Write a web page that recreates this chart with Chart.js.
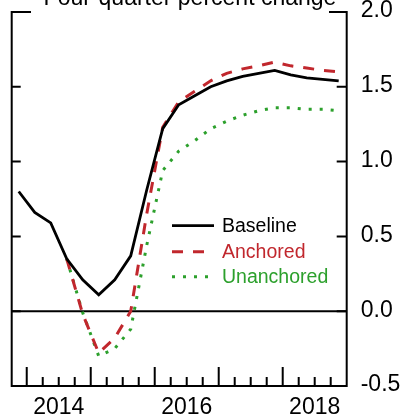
<!DOCTYPE html>
<html>
<head>
<meta charset="utf-8">
<script src="https://cdn.jsdelivr.net/npm/chart.js@4"></script>
<style>
    html, body { margin: 0; padding: 0; background: #fff; }
    canvas { display: block; }
</style>
</head>
<body>
<canvas id="chart" width="400" height="417"></canvas>
<script>
// Quarters 2013Q4 .. 2018Q4, plotted at index 0..20 (quarter midpoints)
const quarters = ['2013Q4',
    '2014Q1', '2014Q2', '2014Q3', '2014Q4',
    '2015Q1', '2015Q2', '2015Q3', '2015Q4',
    '2016Q1', '2016Q2', '2016Q3', '2016Q4',
    '2017Q1', '2017Q2', '2017Q3', '2017Q4',
    '2018Q1', '2018Q2', '2018Q3', '2018Q4'];

const baseline = [0.80, 0.66, 0.59, 0.35, 0.21, 0.11, 0.21, 0.37, 0.81, 1.22,
    1.38, 1.44, 1.50, 1.54, 1.57, 1.59, 1.61, 1.58, 1.56, 1.55, 1.54];
const anchored = [null, null, null, 0.35, -0.02, -0.28, -0.18, 0.00, 0.65, 1.23,
    1.40, 1.47, 1.54, 1.59, 1.62, 1.64, 1.665, 1.64, 1.625, 1.61, 1.60];
const unanchored = [null, null, null, 0.35, -0.01, -0.30, -0.25, -0.12, 0.44, 0.94,
    1.07, 1.14, 1.22, 1.27, 1.31, 1.34, 1.36, 1.36, 1.35, 1.35, 1.34];

const yTicks = [2.0, 1.5, 1.0, 0.5, 0.0, -0.5];
const yearLabels = ['2014', '2016', '2018'];
const yearStarts = ['2014Q1', '2015Q1', '2016Q1', '2017Q1', '2018Q1'];

const FONT = "'Liberation Sans', Arial, Helvetica, sans-serif";

const toPoints = arr => arr.map((v, i) => ({ x: i, y: v }));

const framePlugin = {
    id: 'frame',
    beforeDatasetsDraw(chart) {
        const { ctx, chartArea: a, scales: { y } } = chart;
        ctx.save();
        ctx.strokeStyle = '#000';
        ctx.lineWidth = 2;
        const y0 = y.getPixelForValue(0);
        ctx.beginPath();
        ctx.moveTo(a.left, y0);
        ctx.lineTo(a.right, y0);
        ctx.stroke();
        ctx.restore();
    },
    afterDatasetsDraw(chart) {
        const { ctx, chartArea: a, scales: { x, y } } = chart;
        ctx.save();
        ctx.strokeStyle = '#000';
        ctx.lineWidth = 2;
        ctx.lineCap = 'square';

        // frame: top edge is interrupted by the title
        ctx.beginPath();
        ctx.moveTo(30, a.top);
        ctx.lineTo(a.left, a.top);
        ctx.lineTo(a.left, a.bottom);
        ctx.lineTo(a.right, a.bottom);
        ctx.lineTo(a.right, a.top);
        ctx.lineTo(330, a.top);
        ctx.stroke();

        // y ticks, inward on both sides
        ctx.lineCap = 'butt';
        ctx.beginPath();
        yTicks.forEach(v => {
            const py = y.getPixelForValue(v);
            ctx.moveTo(a.left, py); ctx.lineTo(a.left + 9, py);
            ctx.moveTo(a.right, py); ctx.lineTo(a.right - 10, py);
        });
        // x ticks at quarter boundaries, longer at year starts
        for (let i = 1; i < quarters.length; i++) {
            const px = x.getPixelForValue(i - 0.5);
            const len = yearStarts.includes(quarters[i]) ? 19 : 9;
            ctx.moveTo(px, a.bottom); ctx.lineTo(px, a.bottom - len);
        }
        ctx.stroke();

        // tick labels
        ctx.fillStyle = '#000';
        ctx.font = '23px ' + FONT;
        ctx.textAlign = 'left';
        ctx.textBaseline = 'middle';
        yTicks.forEach(v => {
            ctx.fillText(v.toFixed(1), a.right + 14, y.getPixelForValue(v) - 1);
        });
        ctx.textAlign = 'center';
        ctx.textBaseline = 'alphabetic';
        yearLabels.forEach(lbl => {
            const q = quarters.indexOf(lbl + 'Q1');
            ctx.fillText(lbl, x.getPixelForValue(q + 1.5), 414);
        });

        // title, mostly above the canvas
        ctx.fillText('Four-quarter percent change', 190, 5);

        // legend
        const rows = [226.7, 252.7, 277.7];
        const textColors = ['#000', '#c1272d', '#2ca02c'];
        chart.data.datasets.forEach((ds, i) => {
            const ly = rows[i];
            ctx.strokeStyle = ds.borderColor;
            ctx.lineWidth = ds.borderWidth;
            ctx.setLineDash(ds.borderDash || []);
            ctx.beginPath();
            ctx.moveTo(172, ly - 1);
            ctx.lineTo(214, ly - 1);
            ctx.stroke();
            ctx.setLineDash([]);
            ctx.fillStyle = textColors[i];
            ctx.font = '19.5px ' + FONT;
            ctx.textAlign = 'left';
            ctx.textBaseline = 'middle';
            ctx.fillText(ds.label, 222, ly);
        });
        ctx.restore();
    }
};

new Chart(document.getElementById('chart'), {
    type: 'line',
    data: {
        datasets: [{
            label: 'Baseline',
            data: toPoints(baseline),
            borderColor: '#000',
            borderWidth: 2.8
        }, {
            label: 'Anchored',
            data: toPoints(anchored),
            borderColor: '#c1272d',
            borderWidth: 3,
            borderDash: [11, 10]
        }, {
            label: 'Unanchored',
            data: toPoints(unanchored),
            borderColor: '#2ca02c',
            borderWidth: 3,
            borderDash: [3, 8]
        }]
    },
    options: {
        responsive: false,
        animation: false,
        devicePixelRatio: 1,
        layout: { padding: { left: 11.7, right: 53.3, top: 12, bottom: 31 } },
        elements: {
            point: { radius: 0, hoverRadius: 0 },
            line: { tension: 0, borderCapStyle: 'butt', borderJoinStyle: 'miter' }
        },
        scales: {
            x: { type: 'linear', min: -0.44, max: 20.5, display: false },
            y: { min: -0.5, max: 2.0, display: false }
        },
        plugins: { legend: { display: false }, tooltip: { enabled: false } }
    },
    plugins: [framePlugin]
});
</script>
</body>
</html>
